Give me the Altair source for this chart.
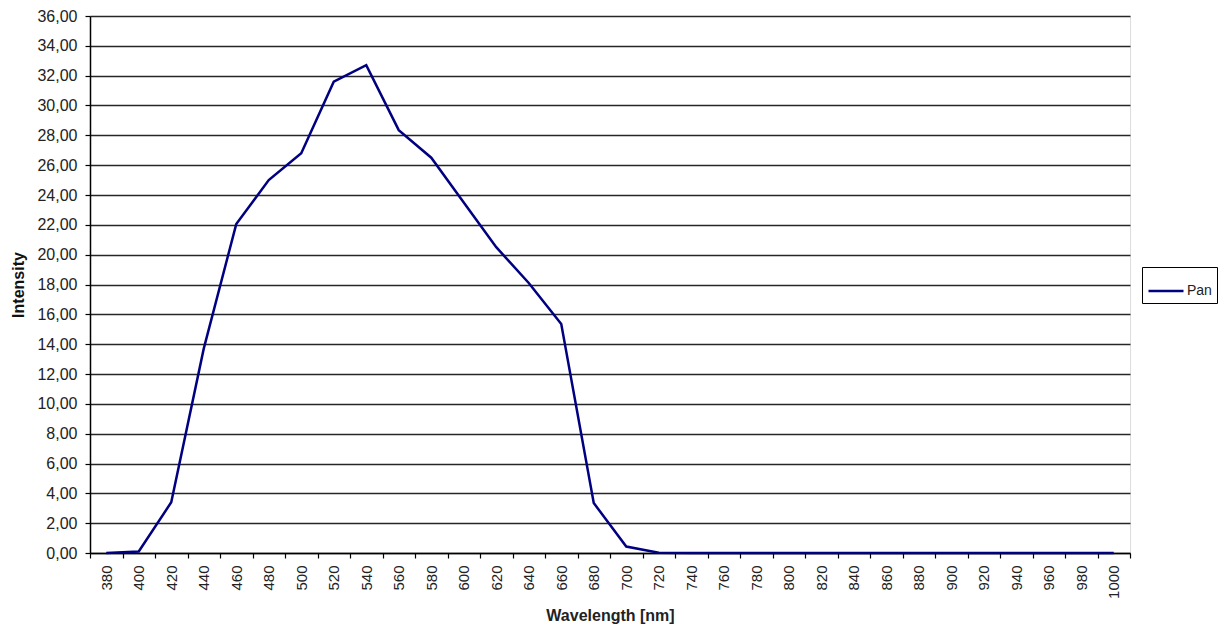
import altair as alt
import pandas as pd

wavelengths = [380, 400, 420, 440, 460, 480, 500, 520, 540, 560, 580, 600, 620, 640,
               660, 680, 700, 720, 740, 760, 780, 800, 820, 840, 860, 880, 900, 920,
               940, 960, 980, 1000]
intensity = [0.0, 0.1, 3.4, 13.7, 22.05, 25.0, 26.8, 31.6, 32.7, 28.35, 26.5, 23.5,
             20.5, 18.1, 15.35, 3.35, 0.43, 0.02, 0.0, 0.0, 0.0, 0.0, 0.0, 0.0,
             0.0, 0.0, 0.0, 0.0, 0.0, 0.0, 0.0, 0.0]
series_name = "Pan"
y_ticks = [0, 2, 4, 6, 8, 10, 12, 14, 16, 18, 20, 22, 24, 26, 28, 30, 32, 34, 36]

df = pd.DataFrame({
    "Wavelength": [str(w) for w in wavelengths],
    "Intensity": intensity,
    "Series": [series_name] * len(wavelengths),
})

font = "Liberation Sans"

chart = alt.Chart(df).mark_line(strokeWidth=2.5).encode(
    x=alt.X(
        "Wavelength:N",
        sort=[str(w) for w in wavelengths],
        scale=alt.Scale(paddingInner=0, paddingOuter=0),
        axis=alt.Axis(
            title="Wavelength [nm]",
            labelAngle=-90,
            labelFontSize=15,
            labelFont=font,
            labelColor="#222222",
            labelPadding=7,
            tickBand="extent",
            tickSize=5,
            tickColor="#000000",
            tickWidth=1.2,
            domainColor="#000000",
            domainWidth=1.5,
            titleFont=font,
            titleFontSize=16,
            titleFontWeight="bold",
            titleColor="#222222",
            titlePadding=9,
            grid=False,
        ),
    ),
    y=alt.Y(
        "Intensity:Q",
        scale=alt.Scale(domain=[0, 36], nice=False, zero=True),
        axis=alt.Axis(
            title="Intensity",
            values=y_ticks,
            labelExpr="replace(format(datum.value, '.2f'), '.', ',')",
            labelFontSize=16,
            labelFont=font,
            labelColor="#222222",
            labelPadding=8,
            tickSize=5,
            tickColor="#000000",
            tickWidth=1.2,
            domainColor="#000000",
            domainWidth=1.5,
            grid=True,
            gridColor="#262626",
            gridWidth=1.6,
            titleFont=font,
            titleFontSize=16,
            titleFontWeight="bold",
            titleColor="#111111",
            titlePadding=10,
        ),
    ),
    color=alt.Color(
        "Series:N",
        scale=alt.Scale(domain=[series_name], range=["#000080"]),
        legend=alt.Legend(
            title=None,
            orient="none",
            legendX=1052,
            legendY=251,
            symbolType="stroke",
            symbolSize=1225,
            symbolStrokeWidth=2.5,
            labelFont=font,
            labelFontSize=14,
            labelColor="#222222",
            labelOffset=2,
            strokeColor="#000000",
            fillColor="#ffffff",
            padding=5,
        ),
    ),
).properties(
    width=1040,
    height=537,
    autosize=alt.AutoSizeParams(type="none"),
    padding={"left": 82, "top": 8, "right": 88, "bottom": 72},
).configure_view(
    fill="#f0f0f0",
    stroke="#808080",
    strokeWidth=1.5,
).configure(
    background="#ffffff",
)

chart.save("out.html", embed_options={"renderer": "svg", "actions": False})
